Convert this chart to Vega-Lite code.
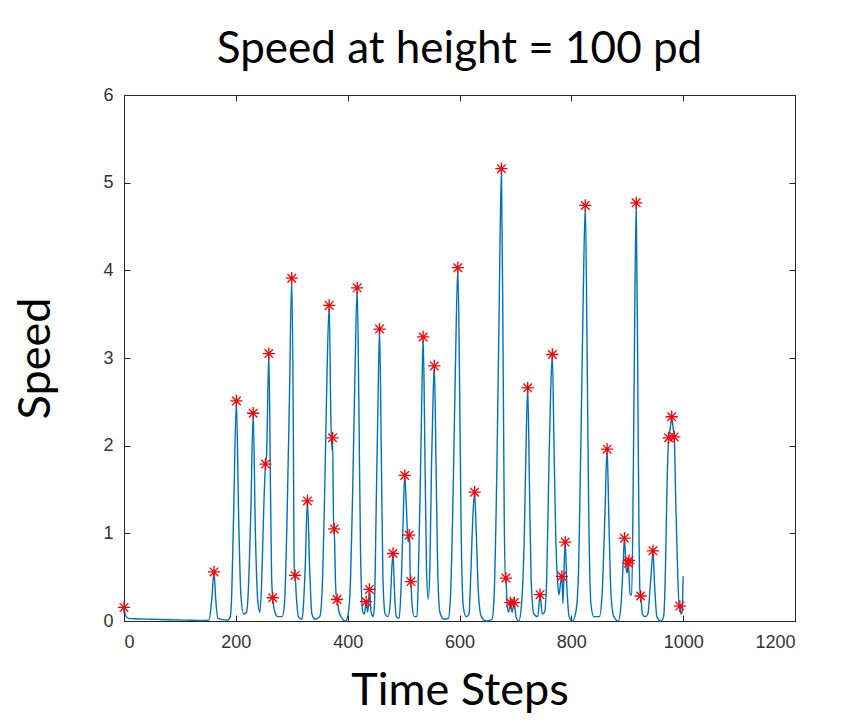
{
  "$schema": "https://vega.github.io/schema/vega-lite/v6.json",
  "autosize": "none",
  "width": 671,
  "height": 526,
  "padding": {"left": 124, "top": 95, "right": 73, "bottom": 107},
  "background": "white",
  "title": {"text": "Speed at height = 100 pd", "font": "Lato", "fontSize": 44, "fontWeight": "normal", "color": "black", "anchor": "middle", "offset": 14},
  "config": {
    "view": {"stroke": "#262626", "strokeWidth": 1},
    "axis": {"grid": false, "domainColor": "#262626", "tickColor": "#262626", "labelColor": "#333333", "labelFont": "Liberation Sans", "labelFontSize": 18, "tickSize": -6, "titleFont": "Lato", "titleFontSize": 45, "titleFontWeight": "normal", "titleColor": "black", "format": "d"}
  },
  "datasets": {
    "line": [
      {"t": 0, "v": 0.155}, {"t": 3, "v": 0.06}, {"t": 8, "v": 0.03}, {"t": 20, "v": 0.025}, {"t": 50, "v": 0.02}, {"t": 80, "v": 0.015}, {"t": 110, "v": 0.01}, {"t": 140, "v": 0.005},
      {"t": 152, "v": 0.01}, {"t": 157, "v": 0.25}, {"t": 161, "v": 0.56}, {"t": 164, "v": 0.25}, {"t": 168, "v": 0.03}, {"t": 185, "v": 0.01}, {"t": 190, "v": 0.05},
      {"t": 192, "v": 0.2}, {"t": 196, "v": 1.2}, {"t": 201, "v": 2.51}, {"t": 205, "v": 1.2}, {"t": 209, "v": 0.3}, {"t": 214, "v": 0.08}, {"t": 219, "v": 0.1},
      {"t": 222, "v": 0.3}, {"t": 227, "v": 1.3}, {"t": 231, "v": 2.37}, {"t": 235, "v": 1.0}, {"t": 239, "v": 0.25}, {"t": 243, "v": 0.1},
      {"t": 246, "v": 0.4}, {"t": 250, "v": 1.3}, {"t": 253, "v": 1.79}, {"t": 255, "v": 1.9}, {"t": 259, "v": 3.05}, {"t": 262, "v": 1.5}, {"t": 264, "v": 0.5}, {"t": 266, "v": 0.265}, {"t": 270, "v": 0.1}, {"t": 275, "v": 0.05}, {"t": 283, "v": 0.05},
      {"t": 287, "v": 0.2}, {"t": 292, "v": 1.3}, {"t": 296, "v": 2.6}, {"t": 300, "v": 3.91}, {"t": 303, "v": 2.0}, {"t": 304, "v": 0.8}, {"t": 305, "v": 0.5}, {"t": 306, "v": 0.52}, {"t": 308, "v": 0.3}, {"t": 312, "v": 0.05}, {"t": 318, "v": 0.02},
      {"t": 320, "v": 0.1}, {"t": 324, "v": 0.6}, {"t": 328, "v": 1.37}, {"t": 332, "v": 0.6}, {"t": 336, "v": 0.08}, {"t": 342, "v": 0.02}, {"t": 350, "v": 0.05},
      {"t": 354, "v": 0.3}, {"t": 359, "v": 1.5}, {"t": 363, "v": 2.8}, {"t": 367, "v": 3.6}, {"t": 370, "v": 2.3}, {"t": 372, "v": 1.95}, {"t": 373, "v": 2.09}, {"t": 375, "v": 1.0}, {"t": 376, "v": 1.05}, {"t": 378, "v": 0.5}, {"t": 380, "v": 0.23}, {"t": 381, "v": 0.245}, {"t": 384, "v": 0.12}, {"t": 390, "v": 0.03}, {"t": 396, "v": 0.0}, {"t": 400, "v": 0.05},
      {"t": 404, "v": 0.3}, {"t": 409, "v": 1.5}, {"t": 413, "v": 2.8}, {"t": 417, "v": 3.8}, {"t": 420, "v": 2.5}, {"t": 423, "v": 0.8}, {"t": 427, "v": 0.1}, {"t": 430, "v": 0.08}, {"t": 433, "v": 0.22}, {"t": 436, "v": 0.1}, {"t": 439, "v": 0.36}, {"t": 442, "v": 0.1}, {"t": 446, "v": 0.05},
      {"t": 448, "v": 0.2}, {"t": 451, "v": 1.3}, {"t": 454, "v": 2.4}, {"t": 457, "v": 3.33}, {"t": 460, "v": 2.0}, {"t": 463, "v": 0.5}, {"t": 467, "v": 0.08}, {"t": 472, "v": 0.05},
      {"t": 476, "v": 0.2}, {"t": 479, "v": 0.6}, {"t": 481, "v": 0.77}, {"t": 484, "v": 0.3}, {"t": 487, "v": 0.05}, {"t": 492, "v": 0.03},
      {"t": 495, "v": 0.3}, {"t": 499, "v": 1.1}, {"t": 502, "v": 1.66}, {"t": 505, "v": 1.3}, {"t": 508, "v": 0.9}, {"t": 510, "v": 0.98}, {"t": 511, "v": 0.9}, {"t": 512, "v": 0.42}, {"t": 513, "v": 0.45}, {"t": 515, "v": 0.2}, {"t": 519, "v": 0.05}, {"t": 524, "v": 0.05},
      {"t": 526, "v": 0.4}, {"t": 530, "v": 1.6}, {"t": 533, "v": 2.7}, {"t": 535, "v": 3.24}, {"t": 538, "v": 2.0}, {"t": 541, "v": 0.6}, {"t": 544, "v": 0.25}, {"t": 547, "v": 0.6}, {"t": 550, "v": 1.8}, {"t": 553, "v": 2.6}, {"t": 555, "v": 2.91}, {"t": 558, "v": 1.8}, {"t": 561, "v": 0.6}, {"t": 565, "v": 0.1}, {"t": 572, "v": 0.02}, {"t": 580, "v": 0.03},
      {"t": 584, "v": 0.3}, {"t": 589, "v": 1.6}, {"t": 593, "v": 3.0}, {"t": 597, "v": 4.03}, {"t": 600, "v": 2.8}, {"t": 603, "v": 1.0}, {"t": 607, "v": 0.15}, {"t": 612, "v": 0.05}, {"t": 617, "v": 0.08},
      {"t": 620, "v": 0.5}, {"t": 624, "v": 1.2}, {"t": 627, "v": 1.47}, {"t": 630, "v": 1.0}, {"t": 634, "v": 0.3}, {"t": 639, "v": 0.05}, {"t": 648, "v": 0.0}, {"t": 658, "v": 0.02},
      {"t": 662, "v": 0.3}, {"t": 667, "v": 1.8}, {"t": 671, "v": 3.6}, {"t": 675, "v": 5.16}, {"t": 678, "v": 3.0}, {"t": 680, "v": 1.2}, {"t": 682, "v": 0.45}, {"t": 683, "v": 0.49}, {"t": 685, "v": 0.2}, {"t": 688, "v": 0.1}, {"t": 691, "v": 0.21}, {"t": 694, "v": 0.1}, {"t": 698, "v": 0.21}, {"t": 701, "v": 0.05}, {"t": 706, "v": 0.0},
      {"t": 711, "v": 0.2}, {"t": 716, "v": 1.0}, {"t": 719, "v": 2.0}, {"t": 722, "v": 2.66}, {"t": 725, "v": 1.6}, {"t": 728, "v": 0.5}, {"t": 733, "v": 0.08}, {"t": 740, "v": 0.05}, {"t": 744, "v": 0.3}, {"t": 748, "v": 0.08}, {"t": 752, "v": 0.1},
      {"t": 756, "v": 0.5}, {"t": 760, "v": 1.8}, {"t": 763, "v": 2.6}, {"t": 766, "v": 3.04}, {"t": 769, "v": 2.0}, {"t": 772, "v": 1.0}, {"t": 776, "v": 0.4}, {"t": 778, "v": 0.3}, {"t": 781, "v": 0.45}, {"t": 783, "v": 0.51}, {"t": 785, "v": 0.2}, {"t": 787, "v": 0.6}, {"t": 789, "v": 0.9}, {"t": 792, "v": 0.4}, {"t": 796, "v": 0.05}, {"t": 802, "v": 0.0}, {"t": 808, "v": 0.1},
      {"t": 812, "v": 0.4}, {"t": 817, "v": 2.0}, {"t": 821, "v": 3.6}, {"t": 825, "v": 4.74}, {"t": 828, "v": 3.2}, {"t": 831, "v": 1.3}, {"t": 835, "v": 0.2}, {"t": 840, "v": 0.05}, {"t": 850, "v": 0.05},
      {"t": 855, "v": 0.3}, {"t": 860, "v": 1.2}, {"t": 864, "v": 1.96}, {"t": 867, "v": 1.2}, {"t": 871, "v": 0.3}, {"t": 876, "v": 0.05}, {"t": 884, "v": 0.0},
      {"t": 889, "v": 0.2}, {"t": 893, "v": 0.7}, {"t": 895, "v": 0.945}, {"t": 898, "v": 0.6}, {"t": 900, "v": 0.55}, {"t": 902, "v": 0.68}, {"t": 905, "v": 0.3}, {"t": 908, "v": 0.3},
      {"t": 911, "v": 1.8}, {"t": 913, "v": 3.2}, {"t": 916, "v": 4.77}, {"t": 919, "v": 2.6}, {"t": 921, "v": 1.0}, {"t": 922, "v": 0.5}, {"t": 923, "v": 0.27}, {"t": 924, "v": 0.285}, {"t": 927, "v": 0.08}, {"t": 932, "v": 0.05}, {"t": 937, "v": 0.08},
      {"t": 940, "v": 0.3}, {"t": 944, "v": 0.65}, {"t": 946, "v": 0.8}, {"t": 949, "v": 0.4}, {"t": 953, "v": 0.05}, {"t": 960, "v": 0.0}, {"t": 965, "v": 0.05},
      {"t": 968, "v": 0.5}, {"t": 971, "v": 1.5}, {"t": 974, "v": 2.09}, {"t": 977, "v": 2.2}, {"t": 979.5, "v": 2.33}, {"t": 982, "v": 2.2}, {"t": 984, "v": 2.1}, {"t": 987, "v": 1.3}, {"t": 990, "v": 0.6}, {"t": 993, "v": 0.15}, {"t": 994, "v": 0.17}, {"t": 996, "v": 0.08}, {"t": 998, "v": 0.1}, {"t": 1000, "v": 0.51}
    ],
    "peaks": [
      {"t": 0, "v": 0.155}, {"t": 161, "v": 0.56}, {"t": 201, "v": 2.51}, {"t": 231, "v": 2.37}, {"t": 253, "v": 1.79}, {"t": 259, "v": 3.05}, {"t": 266, "v": 0.265}, {"t": 300, "v": 3.91}, {"t": 306, "v": 0.52}, {"t": 328, "v": 1.37},
      {"t": 367, "v": 3.6}, {"t": 373, "v": 2.09}, {"t": 376, "v": 1.05}, {"t": 381, "v": 0.245}, {"t": 417, "v": 3.8}, {"t": 433, "v": 0.22}, {"t": 439, "v": 0.36}, {"t": 457, "v": 3.33}, {"t": 481, "v": 0.77}, {"t": 502, "v": 1.66},
      {"t": 510, "v": 0.98}, {"t": 513, "v": 0.45}, {"t": 535, "v": 3.24}, {"t": 555, "v": 2.91}, {"t": 597, "v": 4.03}, {"t": 627, "v": 1.47}, {"t": 675, "v": 5.16}, {"t": 683, "v": 0.49}, {"t": 691, "v": 0.21}, {"t": 698, "v": 0.21},
      {"t": 722, "v": 2.66}, {"t": 744, "v": 0.3}, {"t": 766, "v": 3.04}, {"t": 783, "v": 0.51}, {"t": 789, "v": 0.9}, {"t": 825, "v": 4.74}, {"t": 864, "v": 1.96}, {"t": 895, "v": 0.945}, {"t": 902, "v": 0.66}, {"t": 903, "v": 0.69},
      {"t": 916, "v": 4.77}, {"t": 924, "v": 0.285}, {"t": 946, "v": 0.8}, {"t": 974, "v": 2.09}, {"t": 979.5, "v": 2.33}, {"t": 984, "v": 2.1}, {"t": 994, "v": 0.17}
    ]
  },
  "resolve": {"axis": {"x": "independent", "y": "independent"}},
  "layer": [
    {
      "data": {"name": "line"},
      "mark": {"type": "line", "color": "#0072BD", "strokeWidth": 1.4, "interpolate": "monotone"},
      "encoding": {
        "x": {"field": "t", "type": "quantitative", "scale": {"domain": [0, 1200], "nice": false}, "axis": {"values": [0, 200, 400, 600, 800, 1000, 1200], "title": "Time Steps", "titlePadding": 17, "labelPadding": 18}},
        "y": {"field": "v", "type": "quantitative", "scale": {"domain": [0, 6], "nice": false}, "axis": {"values": [0, 1, 2, 3, 4, 5, 6], "title": "Speed", "titlePadding": 44, "labelPadding": 17}}
      }
    },
    {
      "mark": {"type": "rule", "color": "#333333", "strokeWidth": 1},
      "encoding": {"y": {"datum": 0.135, "type": "quantitative", "axis": null}}
    },
    {
      "data": {"name": "peaks"},
      "mark": {"type": "point", "shape": "M-1,0L1,0M0,-1L0,1M-0.7,-0.7L0.7,0.7M-0.7,0.7L0.7,-0.7", "color": "#FF0000", "filled": false, "size": 150, "strokeWidth": 1.3, "opacity": 1},
      "encoding": {
        "x": {"field": "t", "type": "quantitative", "axis": null},
        "y": {"field": "v", "type": "quantitative", "axis": null}
      }
    },
    {
      "data": {"name": "peaks"},
      "mark": {"type": "point", "opacity": 0},
      "encoding": {
        "x": {"field": "t", "type": "quantitative", "axis": {"orient": "top", "values": [0, 200, 400, 600, 800, 1000, 1200], "labels": false, "title": null}},
        "y": {"field": "v", "type": "quantitative", "axis": {"orient": "right", "values": [0, 1, 2, 3, 4, 5, 6], "labels": false, "title": null}}
      }
    }
  ]
}
